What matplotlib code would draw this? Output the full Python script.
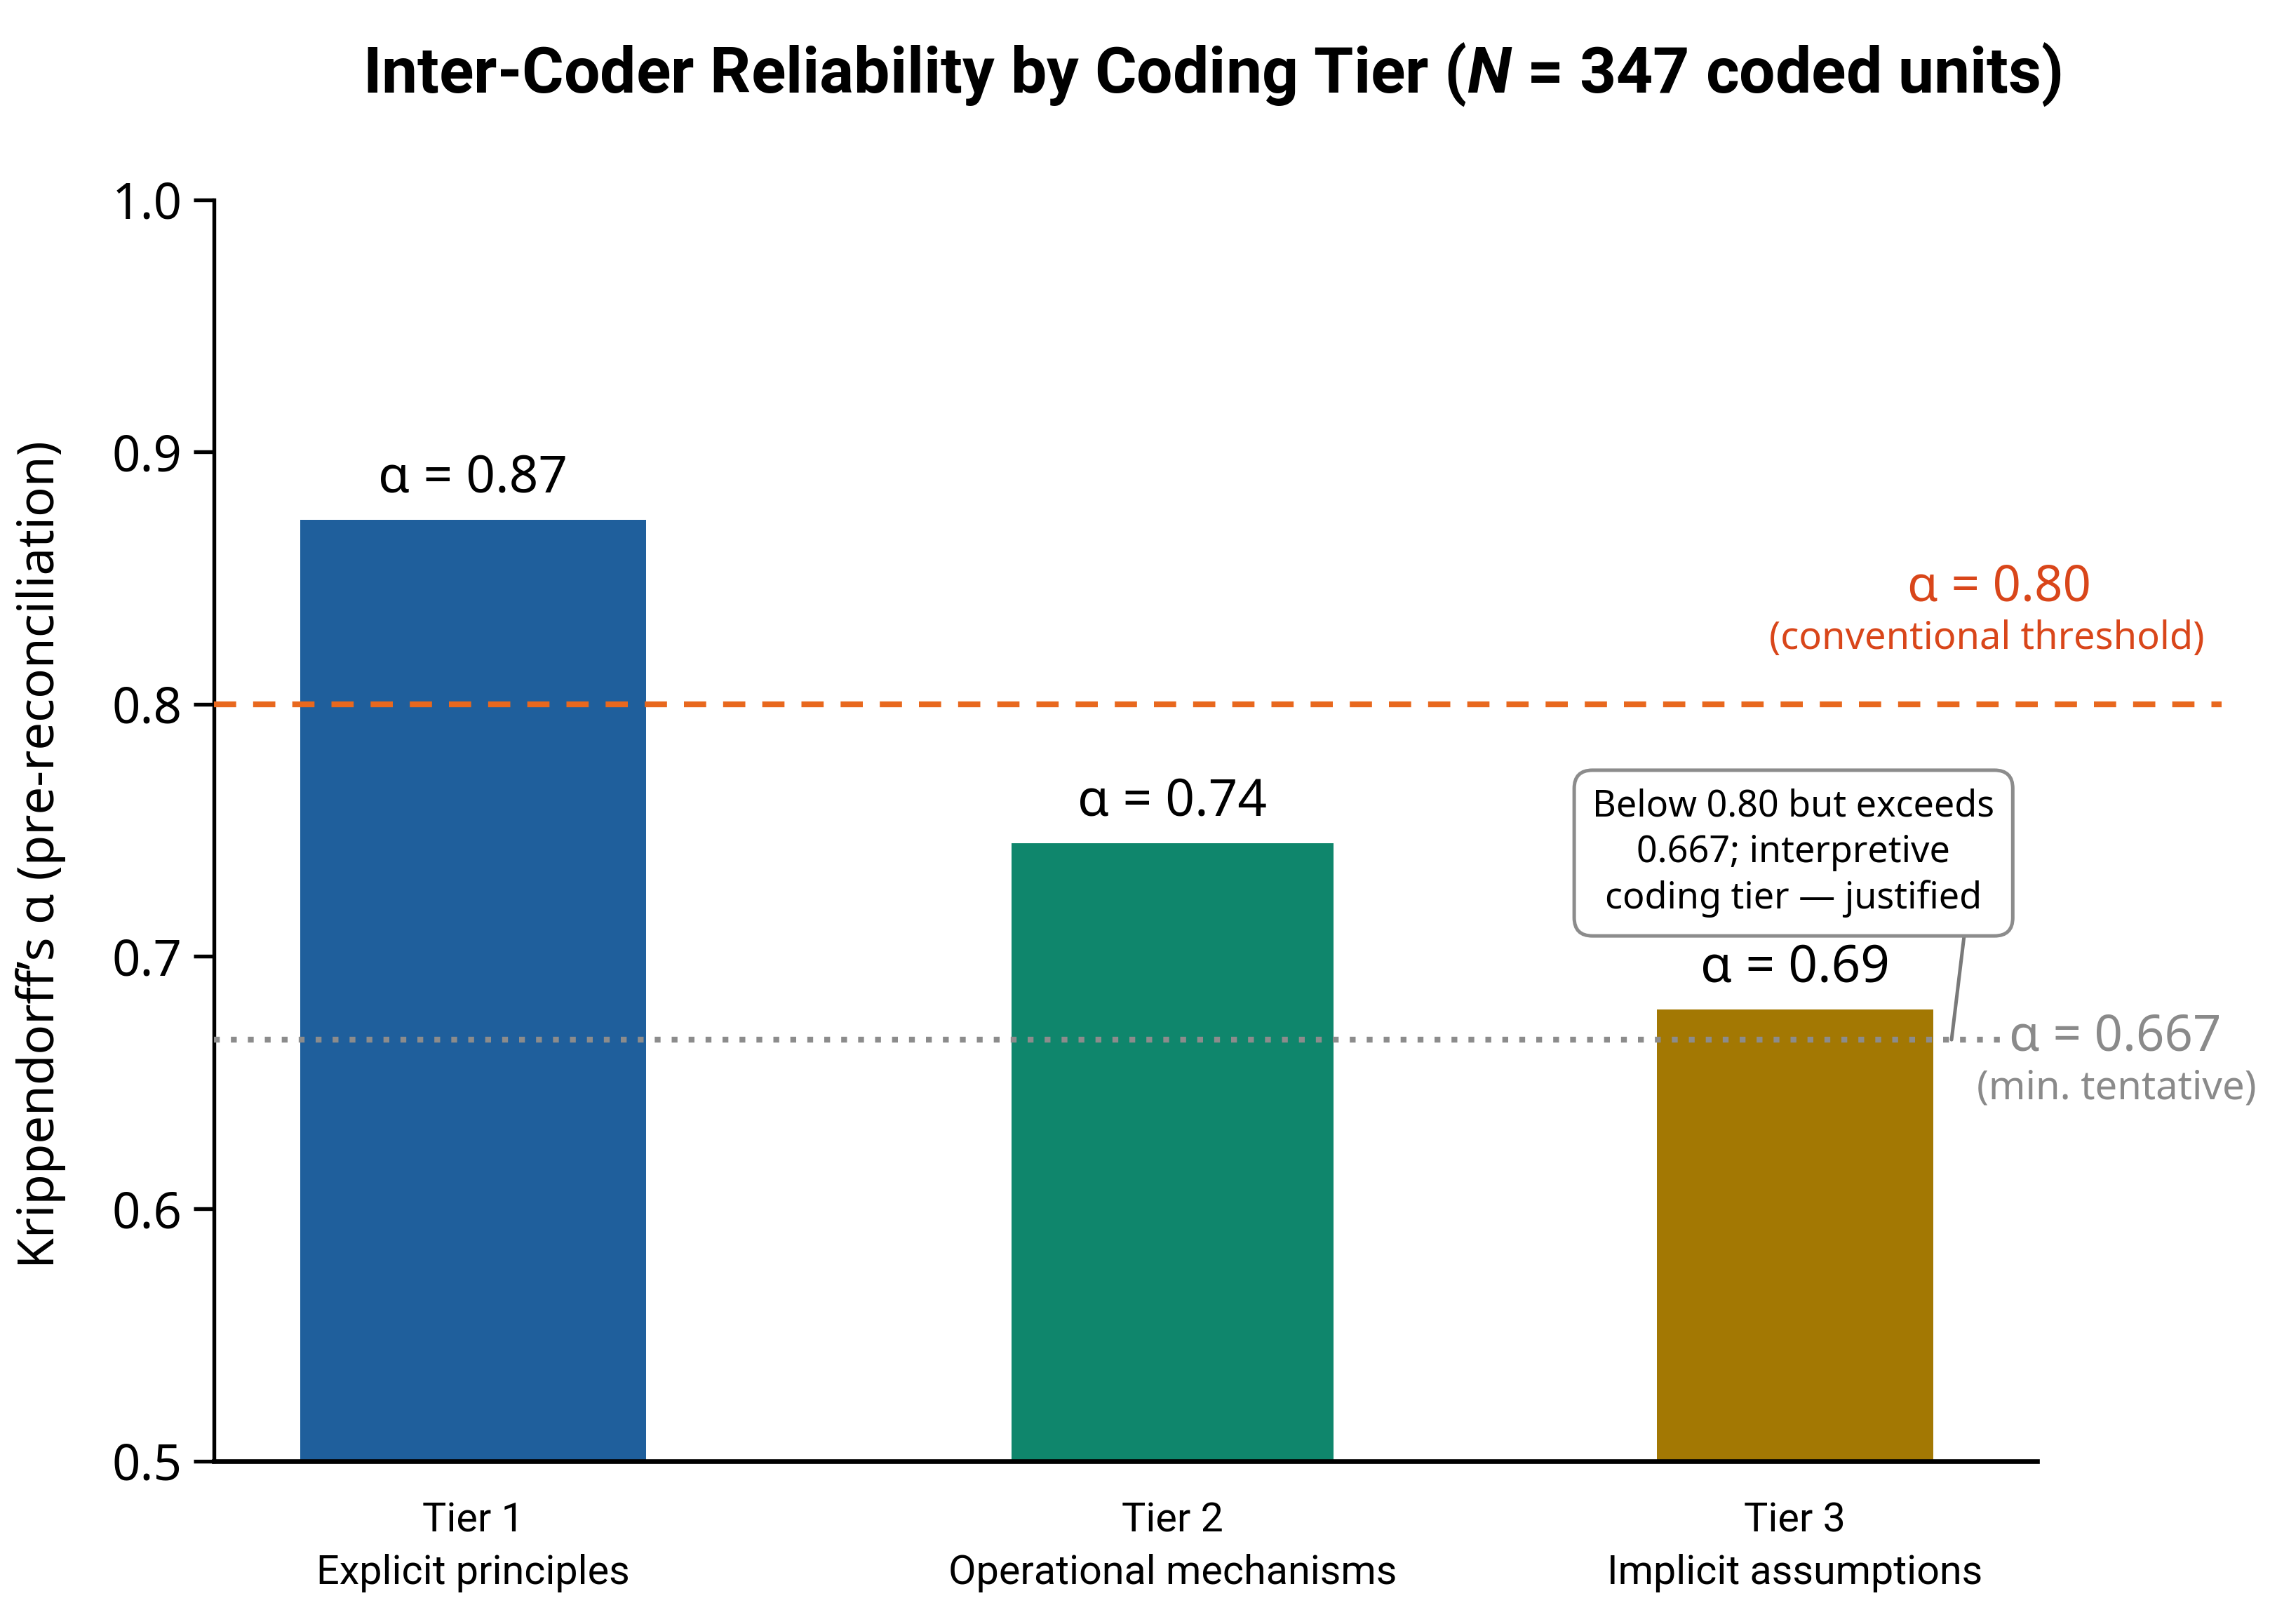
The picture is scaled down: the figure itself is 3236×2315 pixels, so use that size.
import matplotlib
matplotlib.use("Agg")
import matplotlib.pyplot as plt

# data
tiers = ["Tier 1", "Tier 2", "Tier 3"]
tier_desc = ["Explicit principles", "Operational mechanisms", "Implicit assumptions"]
alpha_vals = [0.873, 0.745, 0.679]
alpha_labels = ["α = 0.87", "α = 0.74", "α = 0.69"]
threshold = 0.80
tentative = 0.667
yticks = [0.5, 0.6, 0.7, 0.8, 0.9, 1.0]

# layout (the bars are not evenly spaced/sized in the reference)
xpos = [0, 1, 1.89]
widths = [0.495, 0.46, 0.395]
colors = ["#1f5f9c", "#0f866c", "#a37803"]

plt.rcParams["font.family"] = ["Noto Sans", "DejaVu Sans"]
plt.rcParams["mathtext.fontset"] = "custom"
plt.rcParams["mathtext.it"] = "Roboto:italic:bold"
plt.rcParams["mathtext.rm"] = "Roboto:bold"

fig = plt.figure(figsize=(3236 / 300, 2315 / 300), dpi=300)
ax = fig.add_axes([0.0944, 0.1004, 0.8029, 0.7766])

ax.bar(xpos, [v - 0.5 for v in alpha_vals], width=widths, bottom=0.5,
       color=colors, zorder=2)

for x, v, lab in zip(xpos, alpha_vals, alpha_labels):
    ax.text(x, v + 0.006, lab, ha="center", va="bottom", fontsize=17.5, zorder=4)

ax.set_xlim(-0.37, 2.236)
ax.set_ylim(0.5, 1.0)
ax.set_yticks(yticks)
ax.set_yticklabels([f"{t:.1f}" for t in yticks], fontsize=17)
ax.set_xticks(xpos)
ax.set_xticklabels([f"{t}\n{d}" for t, d in zip(tiers, tier_desc)],
                   fontsize=13.8, linespacing=1.45, family="Roboto")
ax.tick_params(axis="x", length=0, pad=14)
ax.tick_params(axis="y", length=7, width=1.3, pad=4)

for s in ["top", "right"]:
    ax.spines[s].set_visible(False)
ax.spines["left"].set_linewidth(1.3)
ax.spines["bottom"].set_linewidth(1.6)

# reference lines (they run past the right end of the x axis)
ax.plot([-0.37, 2.5], [threshold, threshold], color="#e8681e", lw=2.0,
        dashes=(3.8, 2.9), clip_on=False, zorder=3)
ax.plot([-0.37, 2.19], [tentative, tentative], color="#8c8c8c", lw=2.0,
        dashes=(1, 1.9), clip_on=False, zorder=3)

ax.text(2.182, 0.846, "α = 0.80", color="#d9461a", fontsize=17,
        ha="center", va="center", clip_on=False)
ax.text(2.164, 0.826, "(conventional threshold)", color="#d9461a", fontsize=13,
        ha="center", va="center", clip_on=False)
ax.text(2.348, 0.668, "α = 0.667", color="#8a8a8a", fontsize=17,
        ha="center", va="center", clip_on=False)
ax.text(2.35, 0.6475, "(min. tentative)", color="#8a8a8a", fontsize=13.5,
        ha="center", va="center", clip_on=False)

ax.annotate("Below 0.80 but exceeds\n0.667; interpretive\ncoding tier — justified",
            xy=(2.114, tentative), xytext=(1.888, 0.741),
            ha="center", va="center", fontsize=12.5, linespacing=1.3,
            bbox=dict(boxstyle="round,pad=0.5", fc="white", ec="#8c8c8c", lw=1.2),
            arrowprops=dict(arrowstyle="-", color="#7a7a7a", lw=1.2,
                            relpos=(0.93, 0), shrinkA=0, shrinkB=0),
            zorder=5)

fig.text(0.534, 0.954, r"Inter-Coder Reliability by Coding Tier ($\mathit{N}$ = 347 coded units)",
         ha="center", va="center", fontsize=21.9, fontweight="bold", family="Roboto")
fig.text(0.018, 0.474, "Krippendorff’s α (pre-reconciliation)", rotation=90,
         ha="center", va="center", fontsize=17)

fig.savefig("out.png", dpi=300, facecolor="white")
